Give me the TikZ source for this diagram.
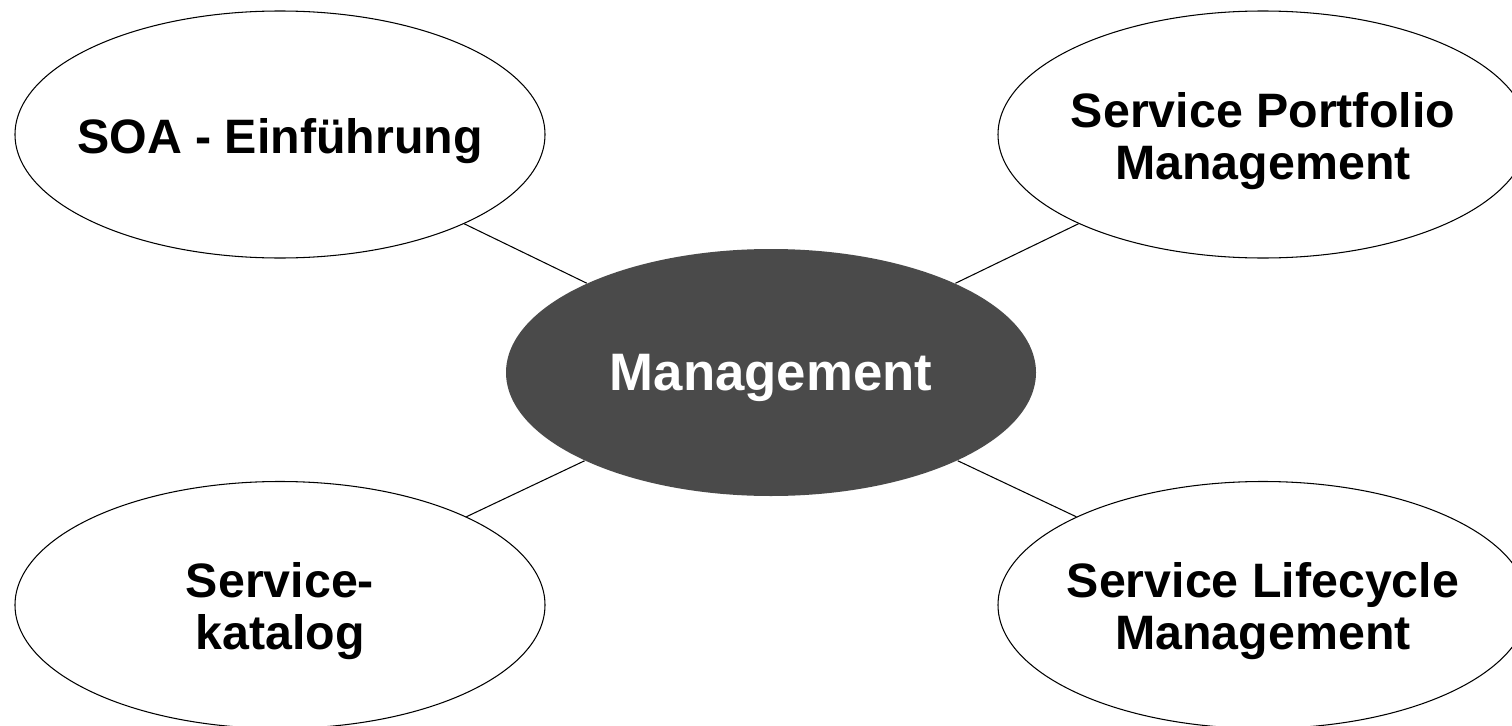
\documentclass[tikz,border=0pt]{standalone}
\usepackage{fontspec}
\setmainfont{Liberation Sans}
\usetikzlibrary{positioning,shapes.geometric}
\definecolor{coregray}{HTML}{4A4A4A}

\begin{document}
\begin{tikzpicture}[on grid,line width=0.6pt,
    topic/.style={ellipse,draw,fill=white,minimum width=10.6cm,minimum height=4.94cm,inner sep=0pt},
    core/.style={topic,draw=none,fill=coregray},
    topictext/.style={align=center,inner sep=0pt,yshift=-0.13cm,font=\bfseries\fontsize{27.5}{29.5}\selectfont},
    coretext/.style={topictext,text=white,yshift=0.03cm,font=\bfseries\fontsize{30}{31}\selectfont}]
    \useasboundingbox (0,0) rectangle (30.24,-14.52);

    %center
    \node[core] (mgmt) at (15.42,-7.45) {};
    \node[coretext] (mgmt_t) at (mgmt) {Management};

    %upper row
    \node[topic] (soa) [above left=4.76cm and 9.82cm of mgmt] {};
    \node[topictext] (soa_t) at (soa) {SOA - Einführung};
    \node[topic] (spm) [above right=4.76cm and 9.84cm of mgmt] {};
    \node[topictext] (spm_t) at (spm) {Service Portfolio\\Management};

    %lower row
    \node[topic] (kat) [below left=4.65cm and 9.82cm of mgmt] {};
    \node[topictext] (kat_t) at (kat) {Service-\\katalog};
    \node[topic] (slm) [below right=4.65cm and 9.84cm of mgmt] {};
    \node[topictext] (slm_t) at (slm) {Service Lifecycle\\Management};

    %spokes
    \path[-]
    (mgmt) edge (soa)
    (mgmt) edge (spm)
    (mgmt) edge (kat)
    (mgmt) edge (slm);
\end{tikzpicture}
\end{document}
